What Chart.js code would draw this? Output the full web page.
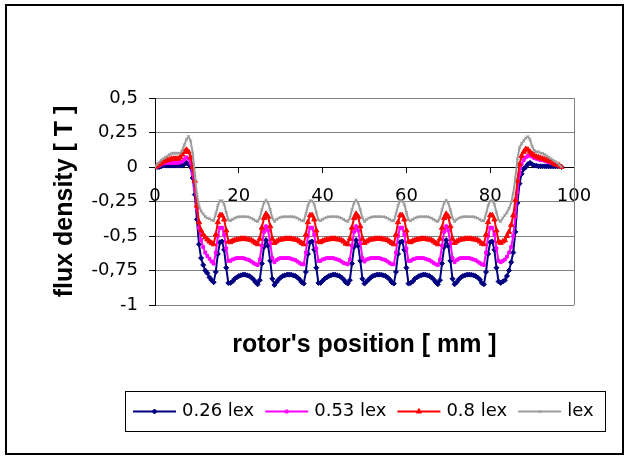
<!DOCTYPE html>
<html lang="en">
<head>
<meta charset="UTF-8">
<title>flux density</title>
<script src="https://cdn.jsdelivr.net/npm/chart.js"></script>
<style>
  body { margin: 0; background: #fff; }
  #quadro { position: relative; width: 628px; height: 457px; }
</style>
</head>
<body>
<div id="quadro"><canvas id="grafico" width="628" height="457"></canvas></div>

<script>
// rotor's position [mm]
const posicao = [
  0, 0.5, 1, 1.5, 2, 2.5, 3, 3.5, 4, 4.5, 5, 5.5, 6, 6.5, 7, 7.5, 8, 8.5, 9, 9.5,
  10, 10.5, 11, 11.5, 12, 12.5, 13, 13.5, 14, 14.5, 15, 15.5, 16, 16.5, 17, 17.5, 18, 18.5, 19, 19.5,
  20, 20.5, 21, 21.5, 22, 22.5, 23, 23.5, 24, 24.5, 25, 25.5, 26, 26.5, 27, 27.5, 28, 28.5, 29, 29.5,
  30, 30.5, 31, 31.5, 32, 32.5, 33, 33.5, 34, 34.5, 35, 35.5, 36, 36.5, 37, 37.5, 38, 38.5, 39, 39.5,
  40, 40.5, 41, 41.5, 42, 42.5, 43, 43.5, 44, 44.5, 45, 45.5, 46, 46.5, 47, 47.5, 48, 48.5, 49, 49.5,
  50, 50.5, 51, 51.5, 52, 52.5, 53, 53.5, 54, 54.5, 55, 55.5, 56, 56.5, 57, 57.5, 58, 58.5, 59, 59.5,
  60, 60.5, 61, 61.5, 62, 62.5, 63, 63.5, 64, 64.5, 65, 65.5, 66, 66.5, 67, 67.5, 68, 68.5, 69, 69.5,
  70, 70.5, 71, 71.5, 72, 72.5, 73, 73.5, 74, 74.5, 75, 75.5, 76, 76.5, 77, 77.5, 78, 78.5, 79, 79.5,
  80, 80.5, 81, 81.5, 82, 82.5, 83, 83.5, 84, 84.5, 85, 85.5, 86, 86.5, 87, 87.5, 88, 88.5, 89, 89.5,
  90, 90.5, 91, 91.5, 92, 92.5, 93, 93.5, 94, 94.5, 95, 95.5, 96, 96.5, 97
];

// flux density [T] for 0.26 lex
const fluxo026 = [
  0, 0, 0, 0.005, 0.01, 0.01, 0.01, 0.01, 0.01, 0.01, 0.01, 0.01, 0.01, 0.01,
  0.02, 0.03, 0.02, 0, -0.08, -0.2, -0.38, -0.56, -0.66, -0.71, -0.75, -0.77, -0.8, -0.82,
  -0.835, -0.76, -0.63, -0.545, -0.54, -0.6, -0.73, -0.84, -0.84,
  -0.83, -0.81, -0.8, -0.79, -0.785, -0.78, -0.78, -0.785, -0.79, -0.8, -0.815, -0.835,
  -0.85, -0.82, -0.7, -0.58, -0.53, -0.57, -0.68, -0.81, -0.855,
  -0.835, -0.815, -0.8, -0.79, -0.785, -0.78, -0.78, -0.78, -0.785, -0.79, -0.8, -0.815, -0.835,
  -0.845, -0.76, -0.63, -0.545, -0.54, -0.6, -0.73, -0.84, -0.84,
  -0.825, -0.81, -0.8, -0.79, -0.785, -0.78, -0.78, -0.785, -0.79, -0.8, -0.815, -0.835,
  -0.845, -0.82, -0.7, -0.58, -0.53, -0.57, -0.68, -0.81, -0.845,
  -0.83, -0.815, -0.8, -0.79, -0.785, -0.78, -0.78, -0.78, -0.785, -0.79, -0.8, -0.815, -0.835,
  -0.845, -0.76, -0.63, -0.545, -0.54, -0.6, -0.73, -0.845, -0.84,
  -0.83, -0.81, -0.8, -0.79, -0.785, -0.78, -0.78, -0.785, -0.79, -0.8, -0.815, -0.835,
  -0.85, -0.82, -0.7, -0.58, -0.53, -0.57, -0.68, -0.81, -0.85,
  -0.835, -0.815, -0.8, -0.79, -0.785, -0.78, -0.78, -0.78, -0.785, -0.79, -0.8, -0.815, -0.84,
  -0.85, -0.76, -0.63, -0.545, -0.54, -0.6, -0.73, -0.83, -0.84,
  -0.83, -0.82, -0.79, -0.75, -0.69, -0.62, -0.47, -0.26, -0.12, -0.05, -0.015, 0, 0.02, 0.03, 0.02, 0.01, 0.01, 0.005,
  0.005, 0.005, 0.005, 0.005, 0.005, 0.005, 0.005, 0.005, 0.005, 0.005, 0
];

// 0.53 lex
const fluxo053 = [
  0, 0.005, 0.01, 0.02, 0.025, 0.03, 0.03, 0.03, 0.03, 0.03, 0.03, 0.03, 0.035, 0.04,
  0.055, 0.07, 0.06, 0.03, -0.05, -0.16, -0.3, -0.44, -0.53, -0.58, -0.62, -0.645, -0.665, -0.685,
  -0.7, -0.62, -0.5, -0.44, -0.44, -0.49, -0.59, -0.68, -0.68,
  -0.67, -0.665, -0.66, -0.66, -0.66, -0.66, -0.665, -0.67, -0.675, -0.685, -0.695, -0.705,
  -0.71, -0.67, -0.57, -0.47, -0.43, -0.46, -0.55, -0.66, -0.69,
  -0.675, -0.665, -0.66, -0.66, -0.66, -0.66, -0.66, -0.665, -0.67, -0.675, -0.685, -0.695, -0.705,
  -0.705, -0.62, -0.5, -0.44, -0.44, -0.49, -0.59, -0.68, -0.68,
  -0.67, -0.665, -0.66, -0.66, -0.66, -0.66, -0.665, -0.67, -0.675, -0.685, -0.695, -0.7,
  -0.705, -0.67, -0.57, -0.47, -0.43, -0.46, -0.55, -0.66, -0.685,
  -0.67, -0.665, -0.66, -0.66, -0.66, -0.66, -0.66, -0.665, -0.67, -0.675, -0.685, -0.695, -0.705,
  -0.705, -0.62, -0.5, -0.44, -0.44, -0.49, -0.59, -0.68, -0.68,
  -0.67, -0.665, -0.66, -0.66, -0.66, -0.66, -0.665, -0.67, -0.675, -0.685, -0.695, -0.705,
  -0.71, -0.67, -0.57, -0.47, -0.43, -0.46, -0.55, -0.66, -0.69,
  -0.675, -0.665, -0.66, -0.66, -0.66, -0.66, -0.66, -0.665, -0.67, -0.675, -0.685, -0.695, -0.705,
  -0.71, -0.62, -0.5, -0.44, -0.44, -0.49, -0.59, -0.68, -0.69,
  -0.68, -0.67, -0.65, -0.62, -0.58, -0.5, -0.36, -0.18, -0.05, 0.02, 0.05, 0.07, 0.08, 0.085, 0.075, 0.065, 0.06, 0.055,
  0.05, 0.05, 0.045, 0.04, 0.035, 0.03, 0.025, 0.02, 0.015, 0.01, 0
];

// 0.8 lex
const fluxo08 = [
  0, 0.01, 0.02, 0.03, 0.04, 0.045, 0.05, 0.055, 0.06, 0.06, 0.06, 0.06, 0.07, 0.09,
  0.11, 0.125, 0.11, 0.07, 0, -0.1, -0.28, -0.4, -0.46, -0.49, -0.51, -0.525, -0.54, -0.55,
  -0.56, -0.49, -0.4, -0.35, -0.35, -0.38, -0.46, -0.54, -0.545,
  -0.535, -0.53, -0.525, -0.525, -0.52, -0.52, -0.52, -0.525, -0.525, -0.53, -0.54, -0.55,
  -0.56, -0.52, -0.44, -0.37, -0.34, -0.36, -0.43, -0.52, -0.55,
  -0.54, -0.53, -0.525, -0.525, -0.52, -0.52, -0.52, -0.52, -0.525, -0.525, -0.53, -0.54, -0.55,
  -0.56, -0.49, -0.4, -0.35, -0.35, -0.38, -0.46, -0.54, -0.545,
  -0.535, -0.53, -0.525, -0.525, -0.52, -0.52, -0.52, -0.525, -0.525, -0.53, -0.54, -0.555,
  -0.56, -0.52, -0.44, -0.37, -0.34, -0.36, -0.43, -0.52, -0.55,
  -0.54, -0.53, -0.525, -0.525, -0.52, -0.52, -0.52, -0.52, -0.525, -0.525, -0.53, -0.54, -0.55,
  -0.56, -0.49, -0.4, -0.35, -0.35, -0.38, -0.46, -0.54, -0.545,
  -0.535, -0.53, -0.525, -0.525, -0.52, -0.52, -0.52, -0.525, -0.525, -0.53, -0.54, -0.55,
  -0.56, -0.52, -0.44, -0.37, -0.34, -0.36, -0.43, -0.52, -0.55,
  -0.54, -0.53, -0.525, -0.525, -0.52, -0.52, -0.52, -0.52, -0.525, -0.525, -0.53, -0.54, -0.555,
  -0.56, -0.49, -0.4, -0.35, -0.35, -0.38, -0.46, -0.54, -0.55,
  -0.54, -0.53, -0.5, -0.47, -0.42, -0.35, -0.24, -0.1, 0.02, 0.08, 0.11, 0.13, 0.125, 0.11, 0.095, 0.085, 0.075, 0.07,
  0.065, 0.06, 0.055, 0.05, 0.045, 0.04, 0.03, 0.02, 0.015, 0.01, 0
];

// lex
const fluxoLex = [
  0, 0.02, 0.035, 0.05, 0.06, 0.07, 0.08, 0.09, 0.1, 0.1, 0.1, 0.1, 0.1, 0.12,
  0.16, 0.2, 0.22, 0.19, 0.1, -0.05, -0.2, -0.28, -0.32, -0.34, -0.36, -0.37, -0.375, -0.385,
  -0.39, -0.34, -0.28, -0.245, -0.245, -0.27, -0.33, -0.385, -0.39,
  -0.38, -0.37, -0.365, -0.36, -0.36, -0.36, -0.36, -0.36, -0.365, -0.37, -0.38, -0.39,
  -0.395, -0.37, -0.31, -0.26, -0.24, -0.26, -0.31, -0.37, -0.395,
  -0.38, -0.37, -0.365, -0.36, -0.36, -0.36, -0.36, -0.36, -0.36, -0.365, -0.37, -0.38, -0.39,
  -0.39, -0.34, -0.28, -0.245, -0.245, -0.27, -0.33, -0.385, -0.39,
  -0.38, -0.37, -0.365, -0.36, -0.36, -0.36, -0.36, -0.36, -0.365, -0.37, -0.38, -0.39,
  -0.395, -0.37, -0.31, -0.26, -0.24, -0.26, -0.31, -0.37, -0.395,
  -0.38, -0.37, -0.365, -0.36, -0.36, -0.36, -0.36, -0.36, -0.36, -0.365, -0.37, -0.38, -0.39,
  -0.39, -0.34, -0.28, -0.245, -0.245, -0.27, -0.33, -0.385, -0.39,
  -0.38, -0.37, -0.365, -0.36, -0.36, -0.36, -0.36, -0.36, -0.365, -0.37, -0.38, -0.39,
  -0.395, -0.37, -0.31, -0.26, -0.24, -0.26, -0.31, -0.37, -0.395,
  -0.38, -0.37, -0.365, -0.36, -0.36, -0.36, -0.36, -0.36, -0.36, -0.365, -0.37, -0.38, -0.39,
  -0.39, -0.34, -0.28, -0.245, -0.245, -0.27, -0.33, -0.385, -0.395,
  -0.37, -0.35, -0.33, -0.3, -0.26, -0.19, -0.08, 0.06, 0.14, 0.17, 0.19, 0.21, 0.22, 0.2, 0.15, 0.12, 0.11, 0.11,
  0.1, 0.1, 0.09, 0.08, 0.07, 0.06, 0.05, 0.04, 0.03, 0.015, 0
];

const nomes = ['0.26 lex', '0.53 lex', '0.8 lex', 'lex'];
const cores = ['#000080', '#FF00FF', '#FF0000', '#9C9C9C'];
const marcadores = ['rectRot', 'rect', 'triangle', 'crossRot'];
const raios = [2.5, 2, 3, 2];
const series = [fluxo026, fluxo053, fluxo08, fluxoLex];

const yTicks = [-1, -0.75, -0.5, -0.25, 0, 0.25, 0.5];

console.log('pontos:', posicao.length, series.map(s => s.length));

const fonteTexto = '"DejaVu Sans", sans-serif';
const fonteTitulo = '"Liberation Sans", Arial, sans-serif';

// outer frame, plot border on the right and the boxed legend
const moldura = {
  id: 'moldura',
  beforeDatasetsDraw(chart) {
    const { ctx, chartArea } = chart;
    ctx.save();
    ctx.strokeStyle = '#808080';
    ctx.lineWidth = 1;
    const xr = Math.round(chartArea.right - 0.5) + 0.5;
    ctx.beginPath();
    ctx.moveTo(xr, chartArea.top);
    ctx.lineTo(xr, chartArea.bottom);
    ctx.stroke();
    ctx.restore();
  },
  afterDraw(chart) {
    const { ctx, chartArea, width, height } = chart;
    ctx.save();
    ctx.strokeStyle = '#000';
    ctx.lineWidth = 2;
    ctx.strokeRect(6, 5, width - 11, height - 8);

    // legend
    ctx.font = '18px ' + fonteTexto;
    const amostra = 43, gap = 6, espaco = 11, pad = 8, alt = 40;
    const larg = chart.data.datasets.map(d => ctx.measureText(d.label).width);
    const linha = larg.reduce((a, w) => a + amostra + gap + w, 0) + espaco * (larg.length - 1);
    const boxW = Math.round(linha + pad * 2 + 3);
    const left = Math.round((chartArea.left + chartArea.right) / 2 - boxW / 2);
    const top = Math.round(chartArea.bottom + 86);
    ctx.lineWidth = 1;
    ctx.strokeRect(left + 0.5, top + 0.5, boxW, alt);

    const cy = top + alt / 2 + 0.5;
    let x = left + pad;
    chart.data.datasets.forEach((d, i) => {
      ctx.strokeStyle = d.borderColor;
      ctx.fillStyle = d.borderColor;
      ctx.lineWidth = 2;
      ctx.beginPath();
      ctx.moveTo(x, cy);
      ctx.lineTo(x + amostra, cy);
      ctx.stroke();
      if (Chart.helpers && Chart.helpers.drawPoint) {
        ctx.lineWidth = 1;
        Chart.helpers.drawPoint(ctx, { pointStyle: d.pointStyle, radius: d.pointRadius, rotation: 0, borderWidth: 1 }, x + amostra / 2, cy);
      }
      ctx.fillStyle = '#000';
      ctx.textAlign = 'left';
      ctx.textBaseline = 'middle';
      ctx.fillText(d.label, x + amostra + gap, cy);
      x += amostra + gap + larg[i] + espaco;
    });
    ctx.restore();
  }
};

const datasets = series.map((s, i) => ({
  label: nomes[i],
  data: posicao.map((p, k) => ({ x: p, y: s[k] })),
  borderColor: cores[i],
  backgroundColor: cores[i],
  borderWidth: 2,
  pointStyle: marcadores[i],
  pointRadius: raios[i],
  pointBorderWidth: 1,
  pointHoverRadius: raios[i],
  tension: 0,
  fill: false,
  order: 4 - i
}));

new Chart(document.getElementById('grafico'), {
  type: 'line',
  data: { datasets: datasets },
  options: {
    responsive: false,
    animation: false,
    devicePixelRatio: 1,
    layout: { padding: { left: 8, right: 54, top: 98, bottom: 97 } },
    plugins: {
      legend: { display: false },
      tooltip: { enabled: false },
      title: {
        display: true,
        text: "rotor's position [ mm ]",
        position: 'bottom',
        fullSize: false,
        color: '#000',
        font: { family: fonteTitulo, size: 25, weight: 'bold' },
        padding: { top: 25, bottom: 0 }
      }
    },
    scales: {
      x: {
        type: 'linear',
        min: 0,
        max: 100,
        position: { y: 0 },
        grid: { drawOnChartArea: false, drawTicks: true, tickLength: 5, tickColor: '#000' },
        border: { color: '#000', width: 1 },
        ticks: {
          stepSize: 20,
          padding: 14,
          color: '#000',
          font: { family: fonteTexto, size: 18 },
          maxRotation: 0
        }
      },
      y: {
        min: -1,
        max: 0.5,
        afterFit(scale) { scale.width = 147; },
        afterBuildTicks(scale) { scale.ticks = yTicks.map(v => ({ value: v })); },
        grid: { color: '#808080', tickColor: '#000', tickLength: 6 },
        border: { color: '#000', width: 1 },
        ticks: {
          padding: 11,
          color: '#000',
          font: { family: fonteTexto, size: 18 },
          callback: v => String(v).replace('.', ',')
        },
        title: {
          display: true,
          text: 'flux density [ T ]',
          color: '#000',
          font: { family: fonteTitulo, size: 25, weight: 'bold' },
          padding: { top: 42, bottom: 0 }
        }
      }
    }
  },
  plugins: [moldura]
});
</script>
</body>
</html>
